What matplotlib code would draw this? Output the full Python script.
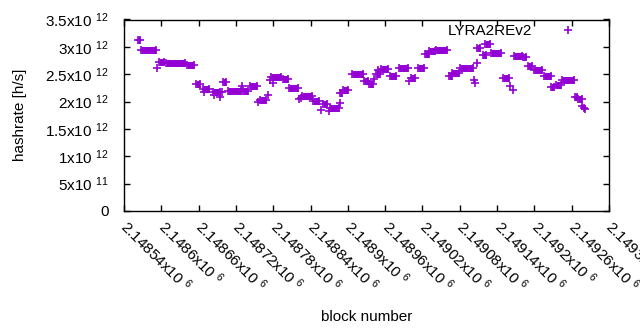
import numpy as np
import matplotlib
matplotlib.use('Agg')
import matplotlib.pyplot as plt

plt.rcParams['font.family'] = ['Liberation Sans', 'DejaVu Sans']
plt.rcParams['mathtext.fontset'] = 'custom'
plt.rcParams['mathtext.rm'] = 'Liberation Sans'
plt.rcParams['mathtext.default'] = 'regular'

# runs of consecutive blocks with the same hashrate (block start, block end, hashrate in 1e12 h/s)
seg_start = [2148562, 2148567, 2148597, 2148608, 2148641, 2148655, 2148667, 2148683, 2148699,
             2148708, 2148731, 2148742, 2148758, 2148777, 2148795, 2148806, 2148827, 2148844,
             2148860, 2148871, 2148888, 2148893, 2148906, 2148926, 2148934, 2148946, 2148953,
             2148967, 2148982, 2149001, 2149013, 2149024, 2149030, 2149042, 2149062, 2149067,
             2149080, 2149108, 2149117, 2149120, 2149131, 2149149, 2149167, 2149181, 2149189,
             2149199, 2149215, 2149227, 2149235, 2149245, 2149266, 2149270]
seg_end = [2148565, 2148591, 2148604, 2148638, 2148652, 2148663, 2148677, 2148694, 2148704,
           2148728, 2148740, 2148754, 2148769, 2148792, 2148804, 2148820, 2148842, 2148854,
           2148866, 2148885, 2148890, 2148901, 2148924, 2148932, 2148941, 2148952, 2148964,
           2148978, 2148997, 2149008, 2149022, 2149031, 2149040, 2149060, 2149068, 2149078,
           2149101, 2149113, 2149122, 2149128, 2149146, 2149159, 2149180, 2149186, 2149196,
           2149213, 2149226, 2149231, 2149242, 2149264, 2149269, 2149276]
seg_rate = [3.12, 2.94, 2.72, 2.70, 2.67, 2.32, 2.23, 2.18, 2.36,
            2.20, 2.19, 2.28, 2.03, 2.44, 2.42, 2.25, 2.11, 2.01,
            1.95, 1.88, 2.15, 2.21, 2.50, 2.37, 2.32, 2.50, 2.59,
            2.47, 2.61, 2.43, 2.61, 2.875, 2.92, 2.95, 2.46, 2.53,
            2.61, 2.985, 2.86, 3.05, 2.89, 2.43, 2.83, 2.81, 2.65,
            2.58, 2.46, 2.27, 2.31, 2.39, 2.08, 2.04]

# isolated blocks
pt_block = [2148593, 2148669, 2148684, 2148695, 2148697, 2148730, 2148755, 2148771, 2148775,
            2148779, 2148821, 2148825, 2148857, 2148870, 2148887, 2148942, 2148948, 2148998,
            2149103, 2149104, 2149107, 2149160, 2149165, 2149277, 2149279, 2149281]
pt_rate = [2.62, 2.17, 2.12, 2.09, 2.18, 2.29, 2.00, 2.12, 2.40,
           2.34, 2.04, 2.07, 1.85, 1.82, 1.98, 2.42, 2.57, 2.37,
           2.40, 2.34, 2.71, 2.29, 2.21, 1.92, 1.89, 1.87]

xticks = np.arange(2148540, 2149321, 60)
yticks = [0, 0.5e12, 1e12, 1.5e12, 2e12, 2.5e12, 3e12, 3.5e12]
ytick_labels = ['0', '5x10 $^{11}$', '1x10 $^{12}$', '1.5x10 $^{12}$', '2x10 $^{12}$',
                '2.5x10 $^{12}$', '3x10 $^{12}$', '3.5x10 $^{12}$']

color = '#9400d3'
fig = plt.figure(figsize=(6.4, 3.3), dpi=100)
ax = fig.add_axes([124/640, 1-211/330, (609-124)/640, (211-19.5)/330])

seg_start = np.array(seg_start)
seg_end = np.array(seg_end)
seg_rate = np.array(seg_rate) * 1e12
ax.hlines(seg_rate, seg_start, seg_end, colors=color, linewidth=5.0, capstyle='butt')
ax.plot(np.concatenate([seg_start, seg_end]), np.concatenate([seg_rate, seg_rate]), '+',
        color=color, markersize=5.5, markeredgewidth=1.2, linestyle='none')
ax.plot(pt_block, np.array(pt_rate) * 1e12, '+', color=color, markersize=5.5,
        markeredgewidth=1.2, linestyle='none', label='LYRA2REv2')

ax.set_xlim(2148540, 2149320)
ax.set_ylim(0, 3.5e12)
ax.set_xticks(xticks)
ax.set_xticklabels(['%gx10 $^{6}$' % (v / 1e6) for v in xticks], rotation=-45,
                   ha='left', va='center', rotation_mode='anchor', fontsize=11)
ax.set_yticks(yticks)
ax.set_yticklabels(ytick_labels, fontsize=11)
ax.tick_params(direction='in', length=4, width=1, top=True, right=True)
ax.tick_params(axis='y', pad=11)
ax.tick_params(axis='x', pad=9)
for s in ax.spines.values():
    s.set_linewidth(1)

ax.set_xlabel('block number', fontsize=11)
ax.xaxis.set_label_coords(0.5, -0.515)
ax.set_ylabel('hashrate [h/s]', fontsize=11)
ax.yaxis.set_label_coords(-0.2, 0.5)

ax.legend(loc='upper right', bbox_to_anchor=(583/640, 1-24/330), bbox_transform=fig.transFigure,
          markerfirst=False, frameon=False, fontsize=11, borderpad=0, borderaxespad=0,
          handletextpad=1.3, handlelength=2)

plt.savefig('out.png', dpi=100)
